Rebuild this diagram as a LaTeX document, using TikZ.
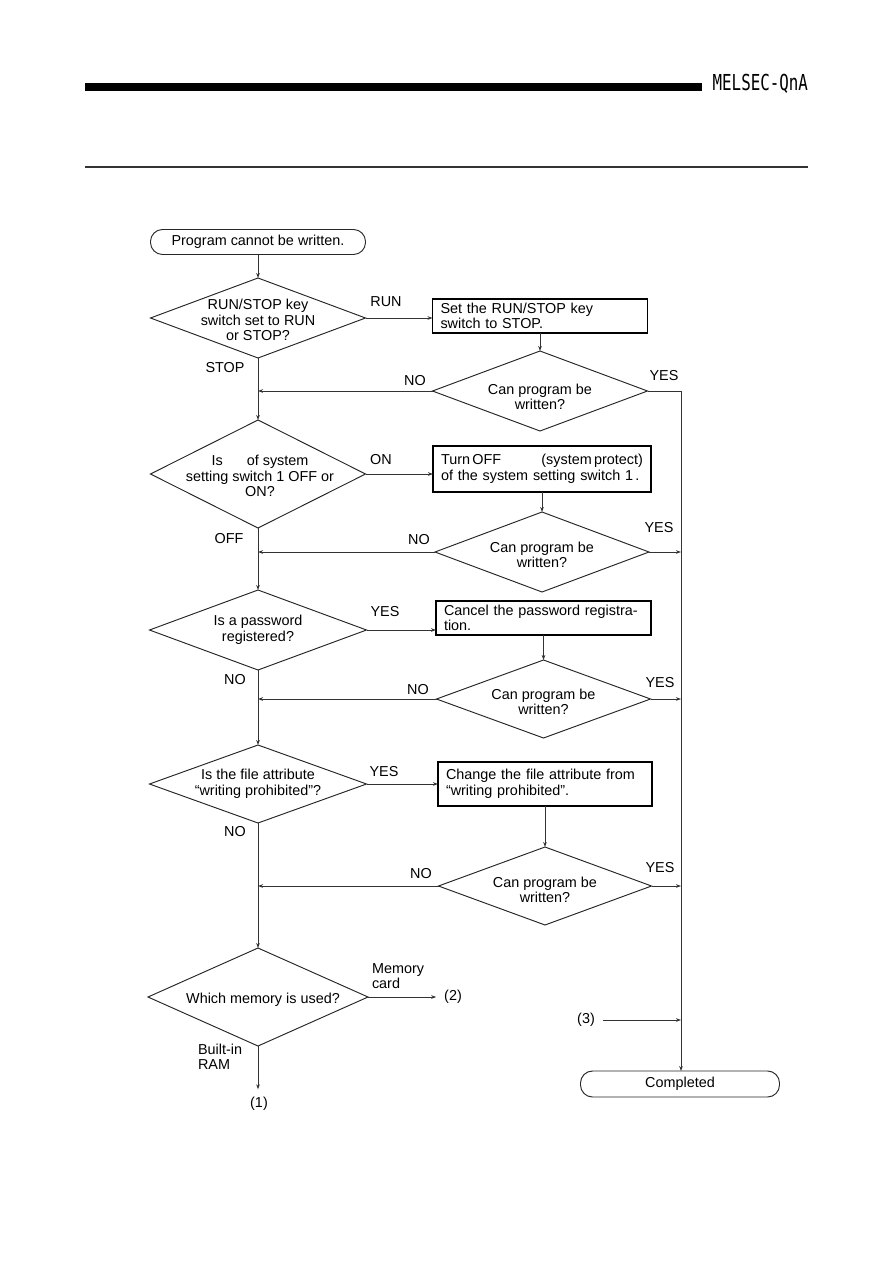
\documentclass[tikz,border=0pt]{standalone}
\usepackage{fontspec}
\usepackage{graphicx}
\setmainfont{Liberation Sans}
\newfontfamily\hdrfont{DejaVu Sans Mono}
\usetikzlibrary{shapes.geometric,arrows.meta}
\begin{document}
\begin{tikzpicture}[x=1pt,y=-1pt,
  every node/.style={font=\fontsize{14.4}{15.5}\selectfont, inner sep=0pt, outer sep=0pt},
  ln/.style={line width=0.85pt, draw=black!80},
  arr/.style={ln, -{Stealth[length=5pt,width=3.6pt]}},
  dia/.style={diamond, draw=black!85, line width=0.95pt, inner sep=0pt, outer sep=0pt},
  dtext/.style={align=center},
  pbox/.style={rectangle, draw=black, line width=1.5pt, align=left, inner xsep=8pt, inner ysep=0pt},
  term/.style={rectangle, draw=black!85, line width=0.95pt, rounded corners=12pt}]
\useasboundingbox (0,0) rectangle (893,1263);
% header
\fill[black] (85,83) rectangle (702,91);
\fill[black!80] (85,166) rectangle (808,168);
\node[anchor=base east] (hdr) at (808,90.5) {\hdrfont\fontsize{22}{22}\selectfont\scalebox{0.72}[1]{MELSEC-QnA}};
% nodes
\node[term, minimum width=215pt, minimum height=25pt] (start) at (258,242) {Program cannot be written.};
\node[dia, minimum width=215pt, minimum height=80pt] (d1) at (258,318) {};
\node[dtext] (d1t) at (258,320) {RUN/STOP key\\switch set to RUN\\or STOP?};
\node[pbox, text width=199pt, minimum height=34pt] (b1) at (540,316) {Set the RUN/STOP key\\switch to STOP.};
\node[dia, minimum width=215pt, minimum height=80pt] (d2) at (540,391) {};
\node[dtext] (d2t) at (540,397) {Can program be\\written?};

\node[dia, minimum width=215pt, minimum height=108pt] (d3) at (258,474) {};
\node[dtext] (d3t) at (260,476) {Is\hspace{24pt}of system\\setting switch 1 OFF or\\ON?};
\node[pbox, text width=202pt, minimum height=46pt] (b2) at (542,469) {Turn\,OFF\hfill(system\,protect)\\of the system setting switch 1\,.};
\node[dia, minimum width=214pt, minimum height=80pt] (d3b) at (542,552) {};
\node[dtext] (d3bt) at (542,555) {Can program be\\written?};

\node[dia, minimum width=217pt, minimum height=80pt] (d4) at (258,630) {};
\node[dtext] (d4t) at (258,630) {Is a password\\registered?};
\node[pbox, text width=199pt, minimum height=34pt] (b3) at (543.5,618) {Cancel the password registra-\\tion.};
\node[dia, minimum width=214pt, minimum height=78pt] (d5) at (543.5,699) {};
\node[dtext] (d5t) at (543.5,702) {Can program be\\written?};

\node[dia, minimum width=217pt, minimum height=78pt] (d6) at (258,784) {};
\node[dtext] (d6t) at (258,784) {Is the file attribute\\``writing prohibited''?};
\node[pbox, text width=198pt, minimum height=44pt] (b4) at (545,784) {Change the file attribute from\\``writing prohibited''.};
\node[dia, minimum width=213pt, minimum height=78pt] (d7) at (545,886) {};
\node[dtext] (d7t) at (545,890) {Can program be\\written?};

\node[dia, minimum width=220pt, minimum height=98pt] (d8) at (258,997) {};
\node[dtext] (d8t) at (263,1000) {Which memory is used?};

\node[term, minimum width=199pt, minimum height=26pt] (done) at (680,1084) {Completed};
\node (n1) at (259,1104) {(1)};
\node (n2) at (453,997) {(2)};
\node (n3) at (586,1020) {(3)};

% labels
\node (lrun) at (386,302) {RUN};
\node (lstop) at (225,368) {STOP};
\node (lno1) at (415,381) {NO};
\node (lyes1) at (664,376) {YES};
\node (lon) at (381,460) {ON};
\node (loff) at (229,539) {OFF};
\node (lno2) at (419,540) {NO};
\node (lyes2) at (659,528) {YES};
\node (lyes3) at (385,612) {YES};
\node (lno3) at (235,680) {NO};
\node (lno4) at (418,690) {NO};
\node (lyes4) at (660,683) {YES};
\node (lyes5) at (384,772) {YES};
\node (lno5) at (235,832) {NO};
\node (lno6) at (421,874) {NO};
\node (lyes6) at (660,868) {YES};
\node[align=left, anchor=west] (lmc) at (372,976) {Memory\\card};
\node[align=left, anchor=west] (lbr) at (198,1057) {Built-in\\RAM};

% connectors
\coordinate (r1) at (681,391);
\draw[arr] (start) -- (d1);
\draw[arr] (d1.east) -- (d1.east -| b1.west);
\draw[arr] (b1) -- (d2);
\draw[arr] (d2.west) -- (d2.west -| d1.south);
\draw[ln] (d2.east) -- (r1);
\draw[arr] (r1) -- (r1 |- done.north);

\draw[arr] (d1) -- (d3);
\draw[arr] (d3.east) -- (d3.east -| b2.west);
\draw[arr] (b2) -- (d3b);
\draw[arr] (d3b.west) -- (d3b.west -| d3.south);
\draw[arr] (d3b.east) -- (d3b.east -| r1);

\draw[arr] (d3) -- (d4);
\draw[arr] (d4.east) -- (d4.east -| b3.west);
\draw[arr] (b3) -- (d5);
\draw[arr] (d5.west) -- (d5.west -| d4.south);
\draw[arr] (d5.east) -- (d5.east -| r1);

\draw[arr] (d4) -- (d6);
\draw[arr] (d6.east) -- (d6.east -| b4.west);
\draw[arr] (b4) -- (d7);
\draw[arr] (d7.west) -- (d7.west -| d6.south);
\draw[arr] (d7.east) -- (d7.east -| r1);

\draw[arr] (d6) -- (d8);
\draw[arr, shorten >=8pt] (d8.east) -- (d8.east -| n2.west);
\draw[arr, shorten >=8pt] (d8.south) -- (d8.south |- n1.north);
\draw[arr, shorten <=8pt] (n3.east) -- (n3.east -| r1);
\end{tikzpicture}
\end{document}
